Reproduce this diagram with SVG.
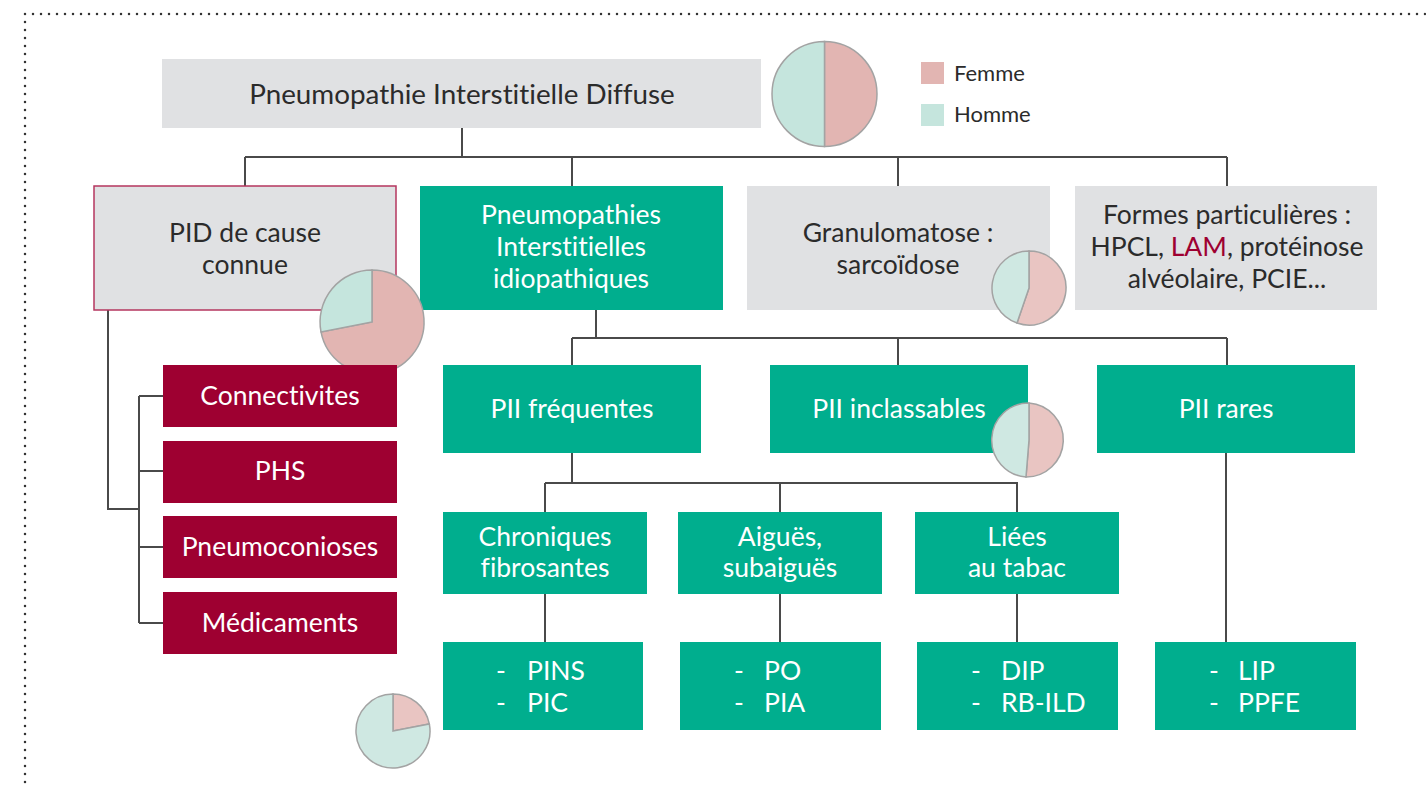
<svg xmlns="http://www.w3.org/2000/svg" width="1426" height="789" viewBox="0 0 1426 789">
<style>
text{font-family:Lato,"Open Sans","Liberation Sans",sans-serif;font-size:26.5px;text-anchor:middle;font-variant-ligatures:none}
.dk{fill:#2b2b2b}
.wt{fill:#ffffff}
.gray{fill:#e0e1e3}
.teal{fill:#00ae8e}
.crim{fill:#9e0031}
.ln{fill:none;stroke:#4a4a4a;stroke-width:2}
.pk{fill:#e2b5b2;stroke:#a3a3a3;stroke-width:1.5}
.tl{fill:#c5e5dd;stroke:#a3a3a3;stroke-width:1.5}
.pk2{fill:#e9c5c2;stroke:#a3a3a3;stroke-width:1.5}
.tl2{fill:#cfe8e2;stroke:#a3a3a3;stroke-width:1.5}
.st{text-anchor:start}
</style>
<g id="border">
<path d="M25,14 H1426 M25,14 V789" fill="none" stroke="#333" stroke-width="2.5" stroke-linecap="round" stroke-dasharray="0 8"/>
</g>
<g id="connectors">
<path class="ln" d="M462,128 V157 M245,157 H1227 M245,157 V186 M572,157 V186 M898,157 V186 M1227,157 V186"/>
<path class="ln" d="M108,310 V509 H139 M139,396 V623 M139,396 H163 M139,471 H163 M139,547 H163 M139,623 H163"/>
<path class="ln" d="M596,310 V338 M572,338 H1227 M572,338 V365 M898,338 V365 M1227,338 V365"/>
<path class="ln" d="M572,453 V483 M545,483 H1018 M545,483 V512 M780,483 V512 M1017,483 V512"/>
<path class="ln" d="M545,594 V642 M780,594 V642 M1017,594 V642 M1226,453 V642"/>
</g>
<g id="root">
<rect class="gray" x="162" y="59" width="599" height="69"/>
<text class="dk" x="462" y="104" style="font-size:27.8px">Pneumopathie Interstitielle Diffuse</text>
</g>
<g id="pie-root">
<path class="pk" d="M824.5,94 L824.5,41.5 A52.5,52.5 0 0 1 824.5,146.5 Z"/>
<path class="tl" d="M824.5,94 L824.5,146.5 A52.5,52.5 0 0 1 824.5,41.5 Z"/>
</g>
<g id="legend">
<rect x="921" y="62" width="23" height="22" fill="#e2b5b2"/>
<text class="dk st" x="954" y="81" style="font-size:22px">Femme</text>
<rect x="921" y="104" width="23" height="22" fill="#c5e5dd"/>
<text class="dk st" x="954" y="122" style="font-size:22px">Homme</text>
</g>
<g id="pid-cause-connue">
<rect class="gray" x="94" y="186" width="302" height="124" stroke="#b5365f" stroke-width="1.5"/>
<text class="dk" x="245" y="242">PID de cause</text>
<text class="dk" x="245" y="274">connue</text>
</g>
<g id="pii">
<rect class="teal" x="420" y="186" width="303" height="124"/>
<text class="wt" x="571" y="224">Pneumopathies</text>
<text class="wt" x="571" y="256">Interstitielles</text>
<text class="wt" x="571" y="288">idiopathiques</text>
</g>
<g id="granulomatose">
<rect class="gray" x="747" y="186" width="303" height="124"/>
<text class="dk" x="898" y="242">Granulomatose :</text>
<text class="dk" x="898" y="274">sarcoïdose</text>
</g>
<g id="formes">
<rect class="gray" x="1075" y="186" width="302" height="124"/>
<text class="dk" x="1227" y="224">Formes particulières :</text>
<text class="dk" x="1227" y="256">HPCL, <tspan fill="#9e0031">LAM</tspan>, protéinose</text>
<text class="dk" x="1227" y="288">alvéolaire, PCIE...</text>
</g>
<g id="pie-pid">
<path class="pk" d="M372,322 L372,270 A52,52 0 1 1 321,331.9 Z"/>
<path class="tl" d="M372,322 L321,331.9 A52,52 0 0 1 372,270 Z"/>
</g>
<g id="pie-sarco">
<path class="pk2" d="M1029,288 L1029,251 A37,37 0 1 1 1017,323 Z"/>
<path class="tl2" d="M1029,288 L1017,323 A37,37 0 0 1 1029,251 Z"/>
</g>
<g id="connectivites">
<rect class="crim" x="163" y="365" width="234" height="62"/>
<text class="wt" x="280" y="405">Connectivites</text>
</g>
<g id="phs">
<rect class="crim" x="163" y="441" width="234" height="62"/>
<text class="wt" x="280" y="480">PHS</text>
</g>
<g id="pneumoconioses">
<rect class="crim" x="163" y="516" width="234" height="62"/>
<text class="wt" x="280" y="556">Pneumoconioses</text>
</g>
<g id="medicaments">
<rect class="crim" x="163" y="592" width="234" height="62"/>
<text class="wt" x="280" y="632">Médicaments</text>
</g>
<g id="pii-frequentes">
<rect class="teal" x="443" y="365" width="258" height="88"/>
<text class="wt" x="572" y="418">PII fréquentes</text>
</g>
<g id="pii-inclassables">
<rect class="teal" x="770" y="365" width="258" height="88"/>
<text class="wt" x="899" y="418">PII inclassables</text>
</g>
<g id="pie-inclass">
<path class="pk2" d="M1029,440 L1029,403 A37,37 0 0 1 1026,476.9 Z"/>
<path class="tl2" d="M1029,440 L1026,476.9 A37,37 0 0 1 1029,403 Z"/>
</g>
<g id="pii-rares">
<rect class="teal" x="1097" y="365" width="258" height="88"/>
<text class="wt" x="1226" y="418">PII rares</text>
</g>
<g id="chroniques">
<rect class="teal" x="443" y="512" width="204" height="82"/>
<text class="wt" x="545" y="546">Chroniques</text>
<text class="wt" x="545" y="577">fibrosantes</text>
</g>
<g id="aigues">
<rect class="teal" x="678" y="512" width="204" height="82"/>
<text class="wt" x="780" y="546">Aiguës,</text>
<text class="wt" x="780" y="577">subaiguës</text>
</g>
<g id="liees-tabac">
<rect class="teal" x="915" y="512" width="204" height="82"/>
<text class="wt" x="1017" y="546">Liées</text>
<text class="wt" x="1017" y="577">au tabac</text>
</g>
<g id="pins-pic">
<rect class="teal" x="443" y="642" width="200" height="88"/>
<text class="wt st" x="496" y="680">-</text><text class="wt st" x="527" y="680">PINS</text>
<text class="wt st" x="496" y="712">-</text><text class="wt st" x="527" y="712">PIC</text>
</g>
<g id="po-pia">
<rect class="teal" x="680" y="642" width="201" height="88"/>
<text class="wt st" x="734" y="680">-</text><text class="wt st" x="764" y="680">PO</text>
<text class="wt st" x="734" y="712">-</text><text class="wt st" x="764" y="712">PIA</text>
</g>
<g id="dip-rbild">
<rect class="teal" x="917" y="642" width="201" height="88"/>
<text class="wt st" x="971" y="680">-</text><text class="wt st" x="1001" y="680">DIP</text>
<text class="wt st" x="971" y="712">-</text><text class="wt st" x="1001" y="712">RB-ILD</text>
</g>
<g id="lip-ppfe">
<rect class="teal" x="1155" y="642" width="201" height="88"/>
<text class="wt st" x="1209" y="680">-</text><text class="wt st" x="1238" y="680">LIP</text>
<text class="wt st" x="1209" y="712">-</text><text class="wt st" x="1238" y="712">PPFE</text>
</g>
<g id="pie-chroniques">
<path class="pk2" d="M393,731 L393,694 A37,37 0 0 1 429.3,723.9 Z"/>
<path class="tl2" d="M393,731 L429.3,723.9 A37,37 0 1 1 393,694 Z"/>
</g>
</svg>
